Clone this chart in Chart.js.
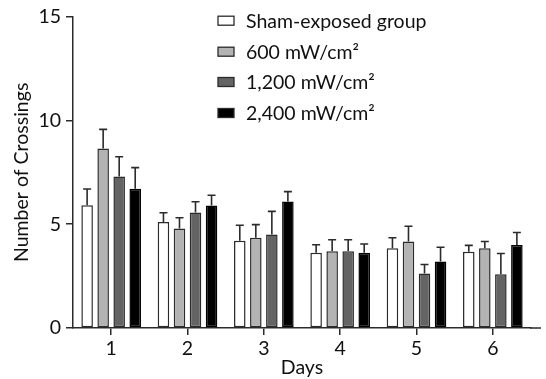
<!DOCTYPE html>
<html>
<head>
<meta charset="utf-8">
<title>Number of Crossings</title>
<script src="https://cdn.jsdelivr.net/npm/chart.js@4.4.1/dist/chart.umd.min.js"></script>
<style>
  html, body { margin: 0; padding: 0; background: #ffffff; }
  #graph-container { position: relative; width: 546px; height: 379px; }
</style>
</head>
<body>
<div id="graph-container">
  <canvas id="results-graph"></canvas>
</div>
<script>
/*
  DESCRIPTION :
  Bar chart of crossings per day for the four exposure groups (mean + upper SD bar).
*/

var DAYS = ["1", "2", "3", "4", "5", "6"];
var GROUP_LABELS = ["Sham-exposed group", "600 mW/cm\u00B2", "1,200 mW/cm\u00B2", "2,400 mW/cm\u00B2"];

// means
var SHAM = [5.92, 5.11, 4.20, 3.62, 3.84, 3.68];
var MW600 = [8.65, 4.79, 4.35, 3.70, 4.17, 3.84];
var MW1200 = [7.30, 5.57, 4.50, 3.70, 2.63, 2.59];
var MW2400 = [6.71, 5.90, 6.10, 3.62, 3.20, 4.00];

// upper error bar length (SD)
var SHAM_SD = [0.78, 0.44, 0.75, 0.39, 0.51, 0.30];
var MW600_SD = [0.92, 0.52, 0.63, 0.55, 0.73, 0.33];
var MW1200_SD = [0.95, 0.51, 1.12, 0.55, 0.43, 1.00];
var MW2400_SD = [1.02, 0.50, 0.47, 0.43, 0.69, 0.60];

var Y_TICKS = [0, 5, 10, 15];

var FILL_COLORS = ["#ffffff", "#b3b3b3", "#646464", "#000000"];
var EDGE = "#2b2b2b";
var FONT = "Lato, 'Open Sans', sans-serif";

/*
  NAME : errorBars
  ROLE : draw the upper SD whisker with a small cap on every bar
*/
var errorBars = {
  id: "errorBars",
  afterDatasetsDraw: function (chart) {
    var ctx = chart.ctx;
    var yScale = chart.scales.y;
    ctx.save();
    ctx.strokeStyle = EDGE;
    ctx.lineWidth = 1.6;
    chart.data.datasets.forEach(function (ds, i) {
      var meta = chart.getDatasetMeta(i);
      meta.data.forEach(function (bar, j) {
        var top = yScale.getPixelForValue(ds.data[j] + ds.sd[j]);
        var x = bar.x;
        ctx.beginPath();
        ctx.moveTo(x, bar.y);
        ctx.lineTo(x, top);
        ctx.moveTo(x - 4, top);
        ctx.lineTo(x + 4, top);
        ctx.stroke();
      });
    });
    ctx.restore();
  }
};

/*
  NAME : sideLegend
  ROLE : legend stacked in the upper right of the plot, like the original figure
*/
var sideLegend = {
  id: "sideLegend",
  afterDraw: function (chart) {
    var ctx = chart.ctx;
    var rowsY = [20.7, 51.7, 82, 113];
    ctx.save();
    ctx.font = "19.5px " + FONT;
    ctx.textBaseline = "middle";
    chart.data.datasets.forEach(function (ds, i) {
      var cy = rowsY[i];
      ctx.fillStyle = ds.backgroundColor;
      ctx.fillRect(218, cy - 4.5, 16, 9);
      ctx.strokeStyle = EDGE;
      ctx.lineWidth = 1.3;
      ctx.strokeRect(218, cy - 4.5, 16, 9);
      ctx.fillStyle = "#111111";
      ctx.fillText(ds.label, 246, cy + 1);
    });
    ctx.restore();
  }
};

/*
  NAME : axisTail
  ROLE : the x axis line runs a little past the last category
*/
var axisTail = {
  id: "axisTail",
  afterDraw: function (chart) {
    var ctx = chart.ctx;
    var area = chart.chartArea;
    ctx.save();
    ctx.strokeStyle = EDGE;
    ctx.lineWidth = 1.5;
    ctx.beginPath();
    ctx.moveTo(area.right - 1, area.bottom);
    ctx.lineTo(area.right + 10, area.bottom);
    ctx.stroke();
    ctx.restore();
  }
};

function makeDataset(i, values, sd) {
  return {
    label: GROUP_LABELS[i],
    data: values,
    sd: sd,
    backgroundColor: FILL_COLORS[i],
    borderColor: i == 3 ? "#000000" : EDGE,
    borderWidth: 1.5,
    borderSkipped: false
  };
}

var ctx = document.getElementById("results-graph").getContext("2d");
var myBarChart = new Chart(ctx, {
  type: "bar",
  data: {
    labels: DAYS,
    datasets: [
      makeDataset(0, SHAM, SHAM_SD),
      makeDataset(1, MW600, MW600_SD),
      makeDataset(2, MW1200, MW1200_SD),
      makeDataset(3, MW2400, MW2400_SD)
    ]
  },
  options: {
    responsive: true,
    maintainAspectRatio: false,
    animation: false,
    events: [],
    layout: { padding: { top: 13, right: 15, bottom: 0, left: 0 } },
    categoryPercentage: 0.84,
    barPercentage: 0.72,
    plugins: {
      legend: { display: false },
      tooltip: { enabled: false }
    },
    scales: {
      x: {
        grid: { display: true, drawOnChartArea: false, offset: false, color: EDGE, lineWidth: 1.5, tickLength: 7 },
        border: { display: true, color: EDGE, width: 1.5 },
        ticks: { color: "#111111", padding: 2, font: { family: FONT, size: 19.5 } },
        title: { display: true, text: "Days", color: "#111111", padding: { top: -2, bottom: 0 }, font: { family: FONT, size: 19.5 } },
        afterFit: function (scale) { scale.height = 51; }
      },
      y: {
        min: 0,
        max: 15,
        afterBuildTicks: function (scale) {
          scale.ticks = Y_TICKS.map(function (v) { return { value: v }; });
        },
        grid: { display: true, drawOnChartArea: false, color: EDGE, lineWidth: 1.5, tickLength: 7 },
        border: { display: true, color: EDGE, width: 1.5 },
        ticks: { color: "#111111", padding: 5, font: { family: FONT, size: 19.5 } },
        title: { display: true, text: "Number of Crossings", color: "#111111", padding: { top: 10, bottom: 0 }, font: { family: FONT, size: 19.5 } },
        afterFit: function (scale) { scale.width = 73; }
      }
    }
  },
  plugins: [errorBars, sideLegend, axisTail]
});
</script>
</body>
</html>
